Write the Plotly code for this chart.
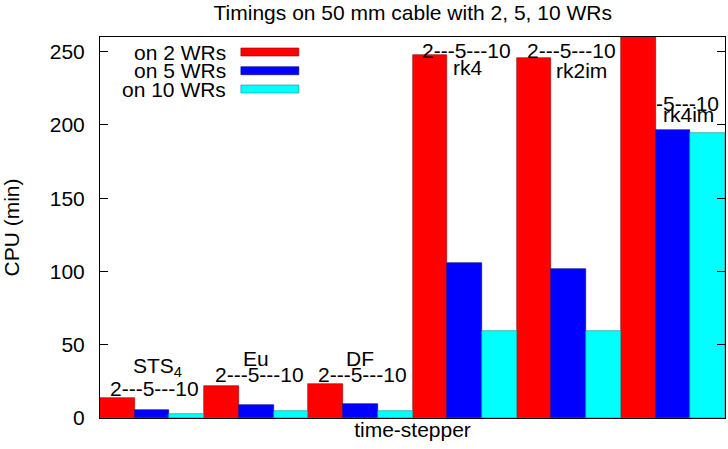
import plotly.graph_objects as go

# ---- data ----
steppers = ["STS4", "Eu", "DF", "rk4", "rk2im", "rk4im"]
wr2 = [13.9, 21.9, 23.2, 247.7, 246.0, 290.0]
wr5 = [5.5, 8.9, 9.6, 106.0, 102.0, 196.7]
wr10 = [2.7, 4.8, 4.8, 59.6, 59.6, 194.7]
series_names = ["on 2 WRs", "on 5 WRs", "on 10 WRs"]
series_colors = ["#ff0000", "#0000ff", "#00ffff"]
border_colors = ["#900000", "#000090", "#009090"]
yticks = [0, 50, 100, 150, 200, 250]

# annotation labels: (text, x in group units, y in data units, xanchor)
labels = [
    ("STS<sub>4</sub>", 0.05, 34.5, "center"),
    ("2---5---10", 0.025, 19.9, "center"),
    ("Eu", 1.0, 40.7, "center"),
    ("2---5---10", 1.03, 30.0, "center"),
    ("DF", 2.0, 40.7, "center"),
    ("2---5---10", 2.02, 30.0, "center"),
    ("2---5---10", 3.02, 251.1, "center"),
    ("rk4", 2.874, 239.3, "left"),
    ("2---5---10", 4.03, 251.1, "center"),
    ("rk2im", 3.855, 237.0, "left"),
    ("-5---10", 5.464, 214.8, "right"),
    ("rk4im", 4.881, 206.8, "left"),
]

FONT = "Liberation Sans, Arial, sans-serif"
FS = 21
W, H = 728, 449
L, R, T, B = 100, 2.5, 37, 31

fig = go.Figure()
xs = list(range(len(steppers)))
for vals, name, col, bcol in zip([wr2, wr5, wr10], series_names, series_colors, border_colors):
    fig.add_trace(go.Bar(
        x=xs, y=vals, name=name, showlegend=False,
        marker=dict(color=col, line=dict(color=bcol, width=0.6)),
    ))

for text, x, y, xa in labels:
    fig.add_annotation(x=x, y=y, xref="x", yref="y", text=text, showarrow=False,
                       xanchor=xa, yanchor="middle",
                       font=dict(family=FONT, size=FS, color="black"))

# manual gnuplot-style legend (text left of swatch); positions in window pixels
plot_w = W - L - R
plot_h = H - T - B
leg_rows_py = [52, 70.7, 89]
def px_x(p):
    return (p - L) / plot_w
def px_y(p):
    return (H - B - p) / plot_h
for name, col, bcol, py in zip(series_names, series_colors, border_colors, leg_rows_py):
    yp = px_y(py)
    fig.add_annotation(x=px_x(228), y=yp, xref="paper", yref="paper",
                       text=name, showarrow=False, xanchor="right", yanchor="middle",
                       font=dict(family=FONT, size=FS, color="black"))
    fig.add_shape(type="rect", xref="paper", yref="paper",
                  x0=px_x(241), x1=px_x(299),
                  y0=yp - 4 / plot_h, y1=yp + 4 / plot_h,
                  fillcolor=col, line=dict(color=bcol, width=0.6))

fig.update_layout(
    width=W, height=H,
    margin=dict(l=L, r=R, t=T, b=B, autoexpand=False),
    paper_bgcolor="white", plot_bgcolor="white",
    barmode="group", bargap=0, bargroupgap=0,
    font=dict(family=FONT, size=FS, color="black"),
    title=dict(text="Timings on 50 mm cable with 2, 5, 10 WRs",
               x=(L + plot_w / 2) / W, xanchor="center",
               y=1 - 12.5 / H, yanchor="middle",
               font=dict(family=FONT, size=FS, color="black")),
)
fig.update_xaxes(range=[-0.5, len(steppers) - 0.5], showticklabels=False, ticks="",
                 showgrid=False, zeroline=False, showline=True, linecolor="black",
                 linewidth=1, mirror=True, automargin=False,
                 title=dict(text="time-stepper", standoff=4,
                            font=dict(family=FONT, size=FS)))
fig.update_yaxes(range=[0, 260], tickvals=yticks, ticks="inside", ticklen=8,
                 tickcolor="black", showgrid=False, zeroline=False, showline=True,
                 linecolor="black", linewidth=1, mirror="ticks", automargin=False,
                 ticklabelstandoff=10,
                 tickfont=dict(family=FONT, size=FS),
                 title=dict(text="CPU (min)", standoff=38,
                            font=dict(family=FONT, size=FS)))

# remove the default 8px page margin so the figure fills the window exactly
fig.write_html("out.html",
               config={"displayModeBar": False},
               post_script="document.body.style.margin='0px';"
                           "document.body.style.overflow='hidden';")
